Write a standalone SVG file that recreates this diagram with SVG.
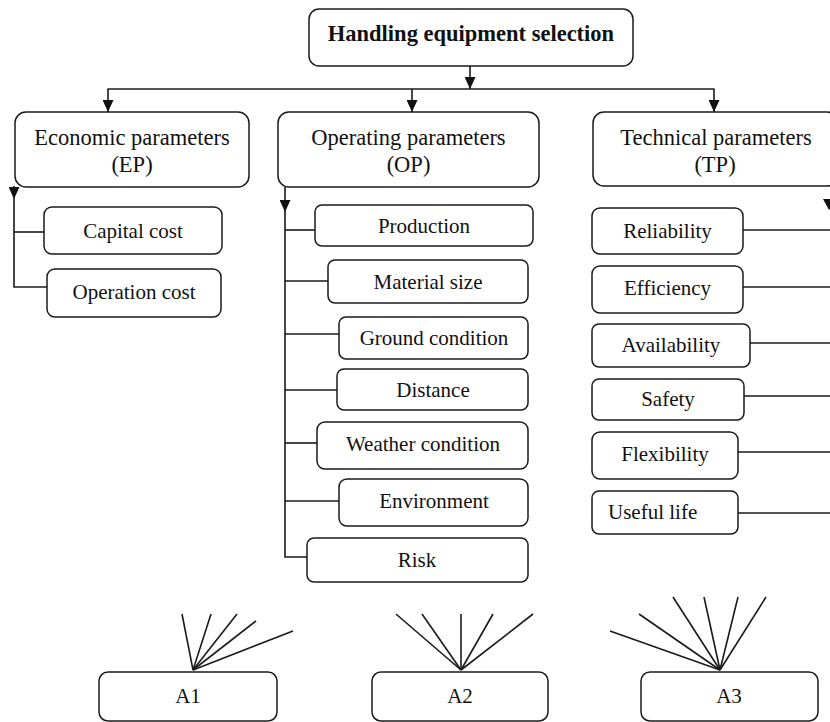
<svg xmlns="http://www.w3.org/2000/svg" width="830" height="722" viewBox="0 0 830 722">
<style>
  .box { fill: #ffffff; stroke: #1a1a1a; stroke-width: 1.5; }
  .ln { fill: none; stroke: #1a1a1a; stroke-width: 1.6; }
  .t { font-family: "Liberation Serif", "Times New Roman", serif; font-size: 21px; fill: #111; text-anchor: middle; }
  .t2 { font-family: "Liberation Serif", "Times New Roman", serif; font-size: 22.5px; fill: #111; text-anchor: middle; }
  .tb { font-family: "Liberation Serif", "Times New Roman", serif; font-size: 22.5px; font-weight: bold; fill: #111; text-anchor: middle; }
</style>
<defs>
  <marker id="arr" viewBox="0 0 12 11" refX="12" refY="5.5" markerWidth="12" markerHeight="11" markerUnits="userSpaceOnUse" orient="auto">
    <path d="M0,0 L12,5.5 L0,11 Z" fill="#111"/>
  </marker>
</defs>

<g id="connectors">
  <line class="ln" x1="470" y1="66" x2="470" y2="89" marker-end="url(#arr)"/>
  <line class="ln" x1="107.5" y1="89" x2="714.5" y2="89"/>
  <line class="ln" x1="108" y1="89" x2="108" y2="112" marker-end="url(#arr)"/>
  <line class="ln" x1="412" y1="89" x2="412" y2="112" marker-end="url(#arr)"/>
  <line class="ln" x1="714" y1="89" x2="714" y2="112" marker-end="url(#arr)"/>

  <line class="ln" x1="14" y1="186" x2="14" y2="199" marker-end="url(#arr)"/>
  <polyline class="ln" points="14,199 14,287 47,287"/>
  <line class="ln" x1="14" y1="232" x2="44" y2="232"/>

  <line class="ln" x1="285" y1="187" x2="285" y2="212" marker-end="url(#arr)"/>
  <polyline class="ln" points="285,212 285,557 307,557"/>
  <line class="ln" x1="285" y1="230" x2="315" y2="230"/>
  <line class="ln" x1="285" y1="281" x2="328" y2="281"/>
  <line class="ln" x1="285" y1="334" x2="339" y2="334"/>
  <line class="ln" x1="285" y1="390" x2="337" y2="390"/>
  <line class="ln" x1="285" y1="443" x2="317" y2="443"/>
  <line class="ln" x1="285" y1="501" x2="339" y2="501"/>

  <line class="ln" x1="831" y1="187" x2="831" y2="210"/>
  <path d="M823,199 L835,199 L829,210 Z" fill="#111"/>
  <line class="ln" x1="743" y1="230" x2="830" y2="230"/>
  <line class="ln" x1="743" y1="287" x2="830" y2="287"/>
  <line class="ln" x1="750" y1="343" x2="830" y2="343"/>
  <line class="ln" x1="744" y1="396" x2="830" y2="396"/>
  <line class="ln" x1="738" y1="452" x2="830" y2="452"/>
  <line class="ln" x1="738" y1="513" x2="830" y2="513"/>

  <g id="fan-a1">
    <line class="ln" x1="193" y1="670" x2="182" y2="614"/>
    <line class="ln" x1="193" y1="670" x2="211" y2="614"/>
    <line class="ln" x1="193" y1="670" x2="237" y2="614"/>
    <line class="ln" x1="193" y1="670" x2="256" y2="621"/>
    <line class="ln" x1="193" y1="670" x2="293" y2="631"/>
  </g>
  <g id="fan-a2">
    <line class="ln" x1="461" y1="670" x2="396" y2="614"/>
    <line class="ln" x1="461" y1="670" x2="422" y2="614"/>
    <line class="ln" x1="461" y1="670" x2="461" y2="614"/>
    <line class="ln" x1="461" y1="670" x2="493" y2="614"/>
    <line class="ln" x1="461" y1="670" x2="533" y2="614"/>
  </g>
  <g id="fan-a3">
    <line class="ln" x1="720" y1="670" x2="610" y2="631"/>
    <line class="ln" x1="720" y1="670" x2="639" y2="614"/>
    <line class="ln" x1="720" y1="670" x2="673" y2="597"/>
    <line class="ln" x1="720" y1="670" x2="704" y2="597"/>
    <line class="ln" x1="720" y1="670" x2="738" y2="597"/>
    <line class="ln" x1="720" y1="670" x2="766" y2="597"/>
  </g>
</g>

<g id="root">
  <rect class="box" x="309" y="9" width="324" height="57" rx="10"/>
  <text class="tb" x="471" y="41">Handling equipment selection</text>
</g>

<g id="ep">
  <rect class="box" x="15" y="112" width="234" height="75" rx="11"/>
  <text class="t2" x="132" y="145">Economic parameters</text>
  <text class="t2" x="132" y="172">(EP)</text>
</g>
<g id="op">
  <rect class="box" x="278" y="112" width="261" height="75" rx="11"/>
  <text class="t2" x="408.5" y="145">Operating parameters</text>
  <text class="t2" x="408.5" y="172">(OP)</text>
</g>
<g id="tp">
  <rect class="box" x="593" y="112" width="245" height="74" rx="11"/>
  <text class="t2" x="716" y="145">Technical parameters</text>
  <text class="t2" x="715" y="172">(TP)</text>
</g>

<g id="capital-cost">
  <rect class="box" x="44" y="207" width="178" height="47" rx="8"/>
  <text class="t" x="133" y="238">Capital cost</text>
</g>
<g id="operation-cost">
  <rect class="box" x="47" y="269" width="174" height="48" rx="8"/>
  <text class="t" x="134" y="299">Operation cost</text>
</g>

<g id="production">
  <rect class="box" x="315" y="205" width="218" height="41" rx="7"/>
  <text class="t" x="424" y="233">Production</text>
</g>
<g id="material-size">
  <rect class="box" x="328" y="260" width="200" height="43" rx="7"/>
  <text class="t" x="428" y="289">Material size</text>
</g>
<g id="ground-condition">
  <rect class="box" x="339" y="317" width="189" height="42" rx="7"/>
  <text class="t" x="434" y="345">Ground condition</text>
</g>
<g id="distance">
  <rect class="box" x="337" y="369" width="191" height="41" rx="7"/>
  <text class="t" x="433" y="397">Distance</text>
</g>
<g id="weather-condition">
  <rect class="box" x="317" y="422" width="211" height="47" rx="8"/>
  <text class="t" x="423" y="451">Weather condition</text>
</g>
<g id="environment">
  <rect class="box" x="339" y="479" width="189" height="47" rx="8"/>
  <text class="t" x="434" y="508">Environment</text>
</g>
<g id="risk">
  <rect class="box" x="307" y="538" width="221" height="44" rx="7"/>
  <text class="t" x="417" y="567">Risk</text>
</g>

<g id="reliability">
  <rect class="box" x="592" y="208" width="151" height="46" rx="8"/>
  <text class="t" x="667.5" y="238">Reliability</text>
</g>
<g id="efficiency">
  <rect class="box" x="592" y="266" width="151" height="47" rx="8"/>
  <text class="t" x="667.5" y="295">Efficiency</text>
</g>
<g id="availability">
  <rect class="box" x="592" y="324" width="158" height="43" rx="7"/>
  <text class="t" x="671" y="352">Availability</text>
</g>
<g id="safety">
  <rect class="box" x="592" y="379" width="152" height="41" rx="7"/>
  <text class="t" x="668" y="406">Safety</text>
</g>
<g id="flexibility">
  <rect class="box" x="592" y="432" width="146" height="47" rx="8"/>
  <text class="t" x="665" y="461">Flexibility</text>
</g>
<g id="useful-life">
  <rect class="box" x="592" y="491" width="146" height="43" rx="7"/>
  <text class="t" x="608" y="519" style="text-anchor:start">Useful life</text>
</g>

<g id="a1">
  <rect class="box" x="99" y="672" width="178" height="49" rx="9"/>
  <text class="t" x="188" y="703">A1</text>
</g>
<g id="a2">
  <rect class="box" x="372" y="672" width="176" height="49" rx="9"/>
  <text class="t" x="460" y="703">A2</text>
</g>
<g id="a3">
  <rect class="box" x="641" y="672" width="177" height="49" rx="9"/>
  <text class="t" x="729" y="703">A3</text>
</g>
</svg>
